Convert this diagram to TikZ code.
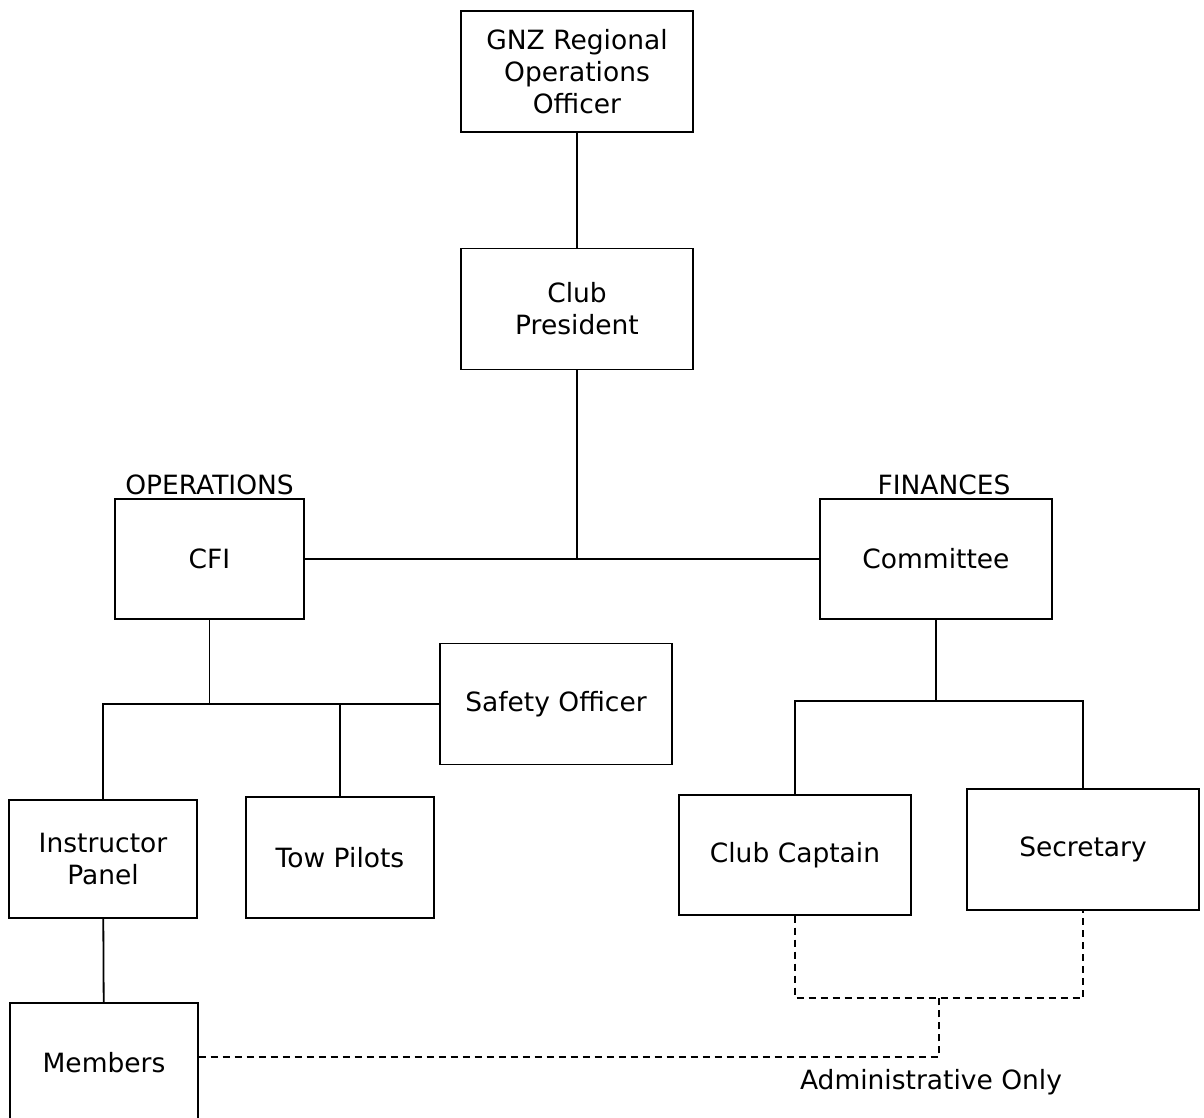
\documentclass[tikz,border=0pt]{standalone}
\usepackage{fontspec}
\setmainfont{DejaVu Sans}
\usetikzlibrary{positioning, calc}

\begin{document}
\begin{tikzpicture}[x=1pt, y=-1pt,
  font=\fontsize{26.5}{32}\selectfont,
  box/.style={draw, rectangle, line width=1.4pt, align=center},
  wide/.style={box, minimum width=232pt, minimum height=121pt},
  narrow/.style={box, minimum width=188pt, minimum height=120pt},
  link/.style={line width=1.8pt},
  admin/.style={line width=1.6pt, dashed, dash pattern=on 7pt off 5pt}]
  \useasboundingbox (0,0) rectangle (1204,1118);
  \node[wide] (gnz) at (577,71.5) {GNZ Regional\\Operations\\Officer};
  \node[wide] (pres) at (577,309) {Club\\President};
  \node[narrow, minimum width=189pt] (cfi) at (209.5,559) {CFI};
  \node[wide, minimum height=120pt] (comm) at (936,559) {Committee};
  \node[wide] (safety) at (556,704) {Safety Officer};
  \node[narrow, minimum height=118pt] (instr) at (103,859) {Instructor\\Panel};
  \node[narrow, minimum height=121pt] (tow) at (340,857.5) {Tow Pilots};
  \node[wide, minimum height=120pt] (capt) at (795,855) {Club Captain};
  \node[wide] (secr) at (1083,849.5) {Secretary};
  \node[narrow, minimum height=124pt, text depth=6pt] (memb) at (104,1065) {Members};
  \node[anchor=south, inner sep=3pt] at (cfi.north) {OPERATIONS};
  \node[anchor=south, inner sep=3pt, xshift=8pt] at (comm.north) {FINANCES};
  \node (adlabel) at (931,1082) {Administrative Only};

  \coordinate (csplit) at ($(comm.south)+(0,81)$);
  \coordinate (adm) at ($(capt.south)!0.5!(secr.south)+(0,85)$);

  \draw[link] (gnz) -- (pres);
  \draw[link] (pres) -- (pres |- cfi.east);
  \draw[link] (cfi) -- (comm);
  \draw[link] (cfi) -- (cfi.south |- safety.west);
  \draw[link] (instr.north) |- (safety.west);
  \draw[link] (tow) -- (tow.north |- safety.west);
  \draw[link] (instr) -- (memb);
  \draw[link] (comm) -- (csplit);
  \draw[link] (capt.north) |- (csplit) -| (secr.north);
  \draw[admin] (capt.south) |- (adm) -| (secr.south);
  \draw[admin] ($(memb.east)+(0,-8)$) -| (adm);
\end{tikzpicture}
\end{document}
